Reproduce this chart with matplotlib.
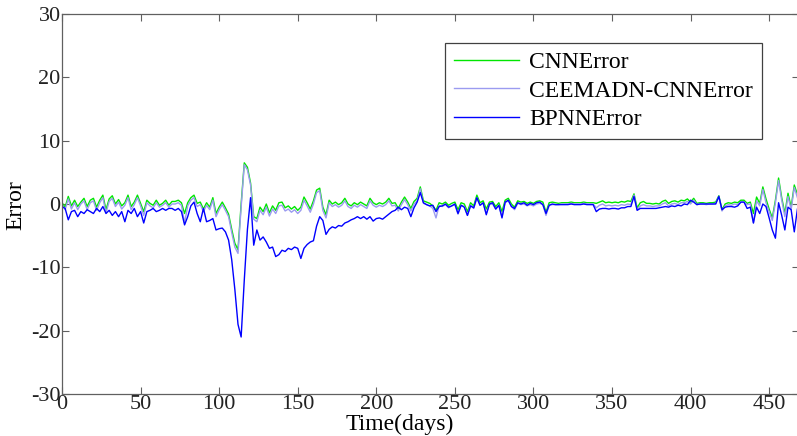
import numpy as np
import matplotlib
matplotlib.use("Agg")
import matplotlib.pyplot as plt

# day index (every 2 days)
days = np.arange(0, 470, 2)

cnn_error = [
    0.2, -0.5, 1.2, -0.3, 0.6, -0.4, 0.3, 0.9, -0.4, 0.6,
    0.9, -0.5, 0.6, 1.4, -0.9, 0.8, 1.3, 0.0, 0.7, -0.3,
    0.2, 1.4, -0.4, 0.3, 1.4, 0.1, -1.2, 0.6, 0.1, -0.2,
    0.6, -0.2, 0.1, 0.6, -0.2, 0.4, 0.4, 0.6, 0.2, -1.5,
    0.2, 1.0, 1.4, 0.1, 0.3, -0.8, 0.2, -0.5, 1.0, -1.5,
    -0.5, 0.3, -0.6, -1.6, -4.0, -6.2, -7.2, 0.0, 6.5, 5.8,
    3.3, -2.0, -2.3, -0.5, -1.2, 0.0, -1.4, -0.3, -1.0, 0.2,
    0.3, -0.6, -0.3, -0.8, -0.4, -1.0, -0.5, 1.1, 0.2, -0.8,
    0.5, 2.2, 2.5, -0.5, -1.7, 0.6, 0.0, 0.3, -0.1, 0.2,
    0.9, 0.0, -0.3, 0.2, -0.1, 0.3, 0.0, -0.3, 0.9, 0.2,
    -0.1, 0.2, 0.0, 0.3, 0.9, 0.1, 0.2, -0.7, 0.3, 1.1,
    0.3, -0.7, 0.4, 0.9, 2.7, 0.5, 0.3, 0.1, -0.3, -1.0,
    0.2, 0.0, 0.3, -0.2, 0.1, 0.3, -0.9, 0.2, 0.0, -1.2,
    0.2, -0.3, 1.4, 0.2, 0.5, -0.8, 0.3, 0.4, -0.4, 0.2,
    -1.2, 0.6, 0.9, 0.0, -0.5, 0.5, 0.3, 0.4, 0.1, 0.3,
    0.1, 0.4, 0.5, 0.3, -1.3, 0.2, 0.3, 0.2, 0.1, 0.2,
    0.2, 0.2, 0.3, 0.2, 0.2, 0.2, 0.3, 0.2, 0.2, 0.2,
    0.1, 0.3, 0.5, 0.2, 0.3, 0.2, 0.3, 0.2, 0.4, 0.3,
    0.5, 0.4, 1.6, -0.6, 0.2, 0.4, 0.1, 0.1, 0.0, 0.1,
    0.0, 0.4, 0.6, 0.1, 0.4, 0.5, 0.3, 0.6, 0.5, 0.8,
    0.3, 0.9, 0.1, 0.2, 0.2, 0.1, 0.2, 0.2, 0.3, 1.3,
    -0.9, 0.0, 0.2, 0.1, 0.3, 0.2, 0.6, 0.6, 0.1, 0.3,
    -1.5, 1.1, 0.1, 2.7, 0.8, -0.8, -2.2, 0.6, 4.1, 1.0,
    -1.5, 1.7, -0.5, 3.0, 1.5,
]

ceemdan_cnn_error = [
    -0.1, -0.9, 0.8, -0.8, 0.2, -0.9, 0.0, 0.5, -0.9, 0.2,
    0.5, -1.0, 0.2, 1.0, -1.4, 0.4, 0.9, -0.4, 0.3, -0.8,
    -0.2, 1.0, -0.9, -0.1, 1.0, -0.3, -1.8, 0.2, -0.3, -0.6,
    0.2, -0.5, -0.2, 0.2, -0.5, 0.0, 0.0, 0.2, -0.2, -3.0,
    -0.3, 0.6, 1.0, -0.4, -0.1, -1.2, -0.2, -0.9, 0.6, -2.0,
    -0.9, -0.1, -1.0, -2.0, -4.5, -6.8, -7.8, -0.5, 6.2, 5.4,
    3.0, -2.4, -2.8, -1.0, -1.7, -0.5, -1.9, -0.8, -1.5, -0.3,
    -0.2, -1.1, -0.8, -1.3, -0.9, -1.5, -1.0, 0.6, -0.3, -1.3,
    0.0, 1.8, 2.1, -1.0, -2.2, 0.2, -0.4, -0.1, -0.5, -0.2,
    0.5, -0.4, -0.7, -0.2, -0.5, -0.1, -0.4, -0.7, 0.5, -0.2,
    -0.5, -0.2, -0.4, -0.1, 0.5, -0.3, -0.2, -1.1, -0.1, 0.7,
    -0.1, -1.1, 0.0, 0.5, 2.4, 0.1, -0.1, -0.3, -0.7, -2.2,
    -0.2, -0.4, -0.1, -0.6, -0.3, -0.1, -1.6, -0.2, -0.4, -1.8,
    -0.2, -0.7, 1.0, -0.2, 0.1, -1.5, -0.1, 0.0, -0.8, -0.2,
    -2.0, 0.2, 0.5, -0.4, -0.9, 0.1, -0.1, 0.0, -0.3, -0.1,
    -0.3, 0.0, 0.1, -0.1, -1.8, -0.2, -0.1, -0.1, -0.1, 0.0,
    0.0, 0.0, 0.1, 0.0, 0.0, 0.0, 0.1, 0.0, 0.0, 0.0,
    -0.6, -0.2, 0.0, -0.3, -0.2, -0.3, -0.2, -0.3, -0.1, -0.2,
    0.0, -0.1, 1.4, -0.9, -0.3, -0.1, -0.3, -0.3, -0.4, -0.3,
    -0.3, 0.0, 0.2, -0.3, 0.0, 0.1, -0.1, 0.2, 0.2, 0.4,
    0.0, 0.6, -0.1, 0.0, 0.0, -0.1, 0.0, 0.0, 0.1, 1.2,
    -1.1, -0.3, -0.1, -0.2, 0.0, -0.1, 0.3, 0.3, -0.1, 0.0,
    -3.0, 0.5, -0.3, 2.3, 0.2, -1.2, -2.6, 0.2, 3.7, 0.6,
    -2.0, 1.2, -0.9, 2.6, 1.0,
]

bpnn_error = [
    -0.4, -0.7, -2.5, -1.2, -1.0, -2.0, -1.2, -1.5, -0.9, -1.2,
    -1.5, -0.7, -1.2, -0.4, -1.5, -1.0, -1.8, -1.2, -2.0, -1.2,
    -2.8, -1.0, -1.5, -0.7, -2.0, -1.2, -3.0, -1.2, -1.0, -0.7,
    -1.2, -1.0, -0.7, -1.0, -0.7, -0.7, -1.0, -0.7, -1.2, -3.3,
    -2.0, -0.3, 0.3, -1.5, -2.8, -0.7, -2.8, -2.6, -2.3, -4.1,
    -3.9, -3.8, -4.4, -5.7, -8.8, -13.5, -19.0, -21.0, -12.0, -4.0,
    1.0, -6.5, -4.1, -5.7, -5.2, -6.0, -7.0, -6.8, -8.3, -8.0,
    -7.3, -7.5, -7.0, -7.2, -6.8, -7.0, -8.6, -7.0, -6.4, -6.0,
    -5.8, -3.5, -2.0, -2.6, -4.8, -4.0, -3.6, -3.8, -3.4, -3.5,
    -3.0, -2.8, -2.5, -2.3, -2.0, -2.3, -2.0, -2.4, -2.0, -2.7,
    -2.3, -2.2, -2.4, -2.0, -1.6, -1.2, -1.0, -0.5, -0.9, -0.5,
    -0.7, -2.0, -0.6, 0.3, 1.8, 0.2, -0.1, -0.3, -0.2, -1.2,
    -0.4, -0.3, 0.0, -0.5, -0.3, 0.0, -1.5, -0.2, -0.5, -1.8,
    -0.3, -0.6, 1.0, -0.2, 0.2, -1.7, 0.0, 0.2, -0.8, -0.2,
    -2.2, 0.3, 0.6, -0.4, -0.7, 0.2, 0.0, 0.2, -0.2, 0.1,
    -0.1, 0.2, 0.3, -0.1, -1.5, -0.2, 0.0, -0.1, -0.1, -0.1,
    -0.1, -0.1, 0.0, -0.1, -0.1, -0.1, 0.0, -0.1, -0.1, -0.1,
    -1.2, -0.8, -0.7, -0.7, -0.8, -0.7, -0.7, -0.8, -0.6, -0.6,
    -0.4, -0.4, 1.2, -1.0, -0.7, -0.7, -0.7, -0.7, -0.7, -0.7,
    -0.6, -0.5, -0.4, -0.5, -0.3, -0.4, -0.2, -0.3, 0.0, -0.1,
    0.6, 0.3, -0.1, 0.0, 0.0, 0.0, 0.0, 0.0, 0.0, 1.2,
    -0.9, -0.5, -0.4, -0.4, -0.5, -0.3, 0.3, 0.3, -0.7, -0.5,
    -3.0, -0.5, -1.5, 0.0, -0.4, -2.2, -4.1, -5.4, 0.2, -1.8,
    -4.1, -0.5, -0.9, -4.4, -0.8,
]

series_labels = ["CNNError", "CEEMADN-CNNError", "BPNNError"]
x_ticks = [0, 50, 100, 150, 200, 250, 300, 350, 400, 450]
y_ticks = [-30, -20, -10, 0, 10, 20, 30]

plt.rcParams["font.family"] = ["Liberation Serif", "DejaVu Serif"]
plt.rcParams["axes.unicode_minus"] = False

W, H = 797, 436
fig = plt.figure(figsize=(W / 100, H / 100), dpi=100)
left, right, top, bottom = 62, 799, 14, 394
ax = fig.add_axes([left / W, 1 - bottom / H, (right - left) / W, (bottom - top) / H])

ax.plot(days, cnn_error, color="#00e600", lw=1.0, label=series_labels[0])
ax.plot(days, ceemdan_cnn_error, color="#9b9bf0", lw=1.0, label=series_labels[1])
ax.plot(days, bpnn_error, color="#0000ff", lw=1.0, label=series_labels[2])

ax.set_xlim(0, 469)
ax.set_ylim(-30, 30)
ax.set_xticks(x_ticks)
ax.set_yticks(y_ticks)

spine_col = "#606060"
for s in ax.spines.values():
    s.set_color(spine_col)
    s.set_linewidth(0.9)
ax.tick_params(direction="in", length=5, width=0.8, color=spine_col,
               labelsize=16, top=True, right=True, pad=1, labelcolor="#222222")
ax.tick_params(axis="y", pad=1)

ax.set_xlabel("Time(days)", fontsize=17)
ax.xaxis.set_label_coords((400 - left) / (right - left), -(414 - bottom) / (bottom - top))
ax.xaxis.label.set_va("top")
ax.set_ylabel("Error", fontsize=17)
ax.yaxis.set_label_coords((26 - left) / (right - left), (bottom - 205) / (bottom - top))

leg = ax.legend(loc="upper right",
                bbox_to_anchor=((762 - left) / (right - left), (bottom - 43) / (bottom - top)),
                fontsize=17, frameon=True, fancybox=False, shadow=False,
                handlelength=2.75, handletextpad=0.42, labelspacing=0.28,
                borderpad=0.38, borderaxespad=0.0)
leg.get_frame().set_edgecolor("#404040")
leg.get_frame().set_linewidth(0.9)
leg.get_frame().set_alpha(1.0)

fig.savefig("out.png", dpi=100)
